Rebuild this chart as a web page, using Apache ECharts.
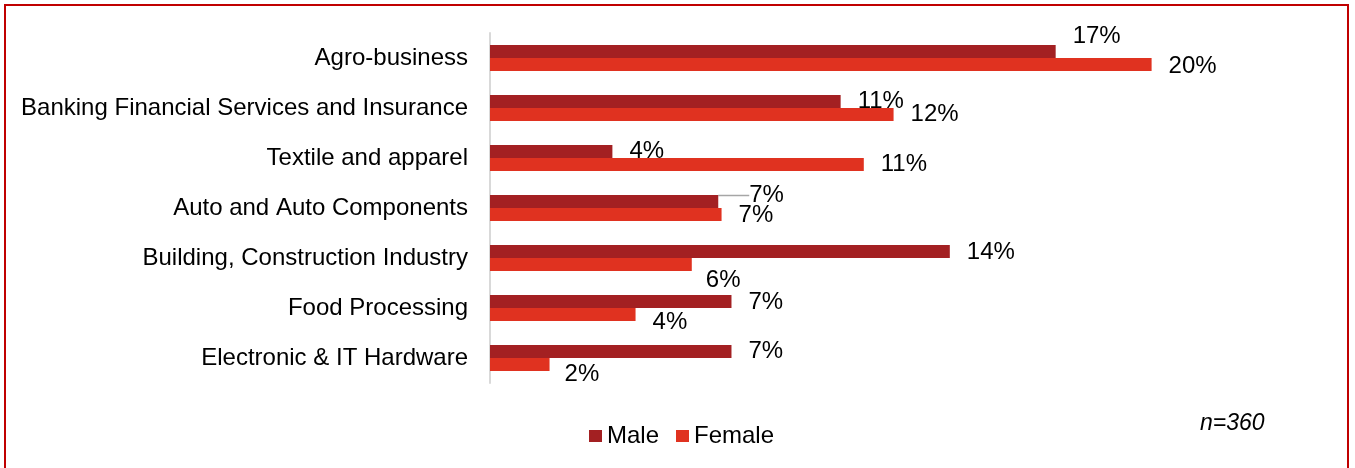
<!DOCTYPE html>
<html>
<head>
<meta charset="utf-8">
<script src="https://cdn.jsdelivr.net/npm/echarts@6/dist/echarts.min.js"></script>
<style>
  html, body { margin: 0; padding: 0; background: #fff; }
  #chart { width: 1355px; height: 468px; }
</style>
</head>
<body>
<div id="chart"></div>
<script>
const categories = [
  "Agro-business",
  "Banking Financial Services and Insurance",
  "Textile and apparel",
  "Auto and Auto Components",
  "Building, Construction Industry",
  "Food Processing",
  "Electronic & IT Hardware",
];
const maleValues = [17.1, 10.6, 3.7, 6.9, 13.9, 7.3, 7.3];
const femaleValues = [20.0, 12.2, 11.3, 7.0, 6.1, 4.4, 1.8];
const sampleNote = "n=360";

// label nudges (Excel placed some labels off the bar end)
const maleLabelShift = [[0, -15], [0, 0], [0, 0], [14, -6], [0, 1], [0, 1], [0, 0]];
const femaleLabelShift = [[0, 2], [0, 0], [0, 0], [0, 1], [-3, 16], [0, 8], [-2, 10]];

const font = "'Liberation Sans', Arial, sans-serif";

const chart = echarts.init(document.getElementById("chart"));

function makeSeries(name, values, color, shifts) {
  return {
    name: name,
    type: "bar",
    barWidth: 13,
    barGap: "0%",
    data: values.map((v, i) => ({
      value: v,
      labelLine: { show: name === "Male" && i === 3 },
    })),
    itemStyle: { color: color },
    label: {
      show: true,
      position: "right",
      distance: 17,
      color: "#000",
      fontFamily: font,
      fontSize: 24,
      formatter: (p) => Math.round(p.value) + "%",
    },
    labelLine: {
      lineStyle: { color: "#a6a6a6", width: 1.5 },
    },
    labelLayout: (p) => ({
      dx: shifts[p.dataIndex][0],
      dy: shifts[p.dataIndex][1],
    }),
  };
}

const option = {
  animation: false,
  backgroundColor: "#fff",
  graphic: [
    {
      type: "rect",
      shape: { x: 5, y: 5, width: 1343, height: 500 },
      style: { fill: "none", stroke: "#c00000", lineWidth: 2 },
    },
  ],
  title: {
    text: sampleNote,
    left: 1195,
    top: 407,
    textStyle: {
      fontFamily: font,
      fontSize: 23,
      fontStyle: "italic",
      fontWeight: "normal",
      color: "#000",
    },
  },
  legend: {
    left: 584,
    top: 419,
    icon: "rect",
    itemWidth: 13,
    itemHeight: 12,
    itemGap: 17,
    textStyle: { fontFamily: font, fontSize: 24, color: "#000" },
    data: ["Male", "Female"],
  },
  grid: {
    left: 490,
    top: 33,
    right: 38,
    bottom: 85,
    containLabel: false,
  },
  xAxis: {
    type: "value",
    min: 0,
    max: 25,
    show: false,
  },
  yAxis: {
    type: "category",
    inverse: true,
    data: categories,
    axisLine: { show: true, lineStyle: { color: "#d9d9d9", width: 2 } },
    axisTick: { show: false },
    axisLabel: {
      margin: 22,
      color: "#000",
      fontFamily: font,
      fontSize: 24,
    },
  },
  series: [
    makeSeries("Male", maleValues, "#a32022", maleLabelShift),
    makeSeries("Female", femaleValues, "#e03220", femaleLabelShift),
  ],
};

chart.setOption(option);
</script>
</body>
</html>
